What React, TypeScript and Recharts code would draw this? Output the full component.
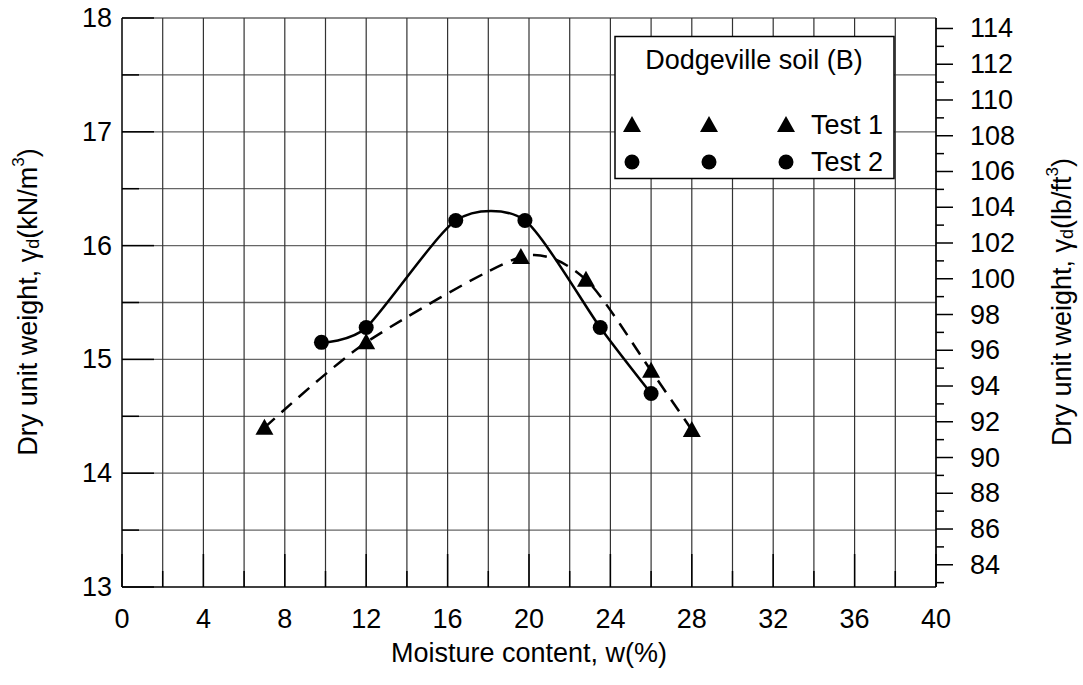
import React from 'react';
import { ComposedChart, Line, XAxis, YAxis, ReferenceLine, Label } from 'recharts';

// ---- data ----
const test1W = [7, 12, 19.6, 22.8, 26, 28];
const test1G = [14.4, 15.15, 15.9, 15.7, 14.9, 14.38];
const test2W = [9.8, 12, 16.4, 19.8, 23.5, 26];
const test2G = [15.15, 15.28, 16.22, 16.22, 15.28, 14.7];

const xTicks = [0, 2, 4, 6, 8, 10, 12, 14, 16, 18, 20, 22, 24, 26, 28, 30, 32, 34, 36, 38, 40];
const yTicks = [13, 13.5, 14, 14.5, 15, 15.5, 16, 16.5, 17, 17.5, 18];
const rightTicks = [83, 84, 85, 86, 87, 88, 89, 90, 91, 92, 93, 94, 95, 96, 97, 98, 99, 100, 101, 102, 103, 104, 105, 106, 107, 108, 109, 110, 111, 112, 113, 114];
const gridX = [2, 4, 6, 8, 10, 12, 14, 16, 18, 20, 22, 24, 26, 28, 30, 32, 34, 36, 38, 40];
const gridY = [13.5, 14, 14.5, 15, 15.5, 16, 16.5, 17, 17.5, 18];
const KN_TO_PCF = 6.3659;

const test1 = test1W.map((w, i) => ({ w, g: test1G[i] }));
const test2 = test2W.map((w, i) => ({ w, g: test2G[i] }));

const FONT = '"Liberation Sans", Arial, sans-serif';
const FS = 27;
const TM = 10;

// cardinal-spline curve factory (smooth curve through every point)
function cardinal(k: number) {
  return function (context: any) {
    let x0 = NaN, y0 = NaN, x1 = NaN, y1 = NaN, x2 = NaN, y2 = NaN;
    let pt = 0;
    let line: any = undefined;
    const seg = (x: number, y: number) => {
      context.bezierCurveTo(
        x1 + k * (x2 - x0),
        y1 + k * (y2 - y0),
        x2 + k * (x1 - x),
        y2 + k * (y1 - y),
        x2,
        y2
      );
    };
    return {
      areaStart() { line = 0; },
      areaEnd() { line = NaN; },
      lineStart() { x0 = x1 = x2 = y0 = y1 = y2 = NaN; pt = 0; },
      lineEnd() {
        if (pt === 2) context.lineTo(x2, y2);
        else if (pt === 3) seg(x1, y1);
        if (line || (line !== 0 && pt === 1)) context.closePath();
        line = 1 - line;
      },
      point(x: number, y: number) {
        x = +x; y = +y;
        if (pt === 0) {
          pt = 1;
          if (line) context.lineTo(x, y); else context.moveTo(x, y);
        } else if (pt === 1) {
          pt = 2;
          x1 = x; y1 = y;
        } else {
          if (pt === 2) pt = 3;
          seg(x, y);
        }
        x0 = x1; x1 = x2; x2 = x;
        y0 = y1; y1 = y2; y2 = y;
      },
    };
  };
}

const LeftTick = (props: any) => {
  const { x, y, payload } = props;
  const v = payload.value;
  const major = Number.isInteger(v);
  const x0 = x + TM;
  return (
    <g>
      <line x1={x0} x2={x0 + (major ? 32 : 17)} y1={y} y2={y} stroke="#000" strokeWidth={1.5} />
      {major && (
        <text x={x0 - 10} y={y} textAnchor="end" dominantBaseline="central" fontFamily={FONT} fontSize={FS} fill="#000">
          {v}
        </text>
      )}
    </g>
  );
};

const BottomTick = (props: any) => {
  const { x, y, payload } = props;
  const v = payload.value;
  const major = v % 4 === 0;
  const y0 = y - TM;
  return (
    <g>
      <line x1={x} x2={x} y1={y0} y2={y0 - (major ? 33 : 16)} stroke="#000" strokeWidth={1.5} />
      {major && (
        <text x={x} y={y0 + 32} textAnchor="middle" dominantBaseline="central" fontFamily={FONT} fontSize={FS} fill="#000">
          {v}
        </text>
      )}
    </g>
  );
};

const RightTick = (props: any) => {
  const { x, y, payload } = props;
  const v = payload.value;
  const major = v % 2 === 0;
  const x0 = x - TM;
  return (
    <g>
      <line x1={x0} x2={x0 + (major ? 17 : 8)} y1={y} y2={y} stroke="#000" strokeWidth={1.5} />
      {major && (
        <text x={x0 + 34} y={y} textAnchor="start" dominantBaseline="central" fontFamily={FONT} fontSize={FS} fill="#000">
          {v}
        </text>
      )}
    </g>
  );
};

const TriDot = (props: any) => {
  const { cx, cy } = props;
  if (cx == null || cy == null) return null;
  return <path d={`M${cx},${cy - 9} L${cx + 9},${cy + 7} L${cx - 9},${cy + 7} Z`} fill="#000" />;
};

const CircDot = (props: any) => {
  const { cx, cy } = props;
  if (cx == null || cy == null) return null;
  return <circle cx={cx} cy={cy} r={7.5} fill="#000" />;
};

const LeftTitle = () => (
  <text transform="translate(28,302) rotate(-90)" textAnchor="middle" dominantBaseline="central" fontFamily={FONT} fontSize={FS} fill="#000">
    Dry unit weight, γ<tspan dy={5} fontSize={18}>d</tspan>
    <tspan dy={-5}>(kN/m</tspan>
    <tspan dy={-10} fontSize={17}>3</tspan>
    <tspan dy={10}>)</tspan>
  </text>
);

const RightTitle = () => (
  <text transform="translate(1062,302) rotate(-90)" textAnchor="middle" dominantBaseline="central" fontFamily={FONT} fontSize={FS} fill="#000">
    Dry unit weight, γ<tspan dy={5} fontSize={18}>d</tspan>
    <tspan dy={-5}>(lb/ft</tspan>
    <tspan dy={-10} fontSize={17}>3</tspan>
    <tspan dy={10}>)</tspan>
  </text>
);

const BottomTitle = () => (
  <text x={529} y={653} textAnchor="middle" dominantBaseline="central" fontFamily={FONT} fontSize={FS} fill="#000">
    Moisture content, w(%)
  </text>
);

const LegendBox = () => (
  <svg width={282} height={146} style={{ position: 'absolute', left: 614, top: 35 }}>
    <rect x={1} y={1.5} width={279} height={142} fill="#fff" stroke="#000" strokeWidth={1.5} />
    <text x={140} y={25} textAnchor="middle" dominantBaseline="central" fontFamily={FONT} fontSize={FS} fill="#000">
      Dodgeville soil (B)
    </text>
    {[18, 95, 172].map((cx) => (
      <TriDot key={'t' + cx} cx={cx} cy={90} />
    ))}
    {[18, 95, 172].map((cx) => (
      <CircDot key={'c' + cx} cx={cx} cy={127} />
    ))}
    <text x={197} y={90} dominantBaseline="central" fontFamily={FONT} fontSize={FS} fill="#000">Test 1</text>
    <text x={197} y={127} dominantBaseline="central" fontFamily={FONT} fontSize={FS} fill="#000">Test 2</text>
  </svg>
);

const smoothCurve: any = cardinal(0.12);

export default function App() {
  return (
    <div style={{ position: 'absolute', left: 0, top: 0, width: 1083, height: 685, background: '#fff' }}>
      <ComposedChart width={1083} height={685} margin={{ top: 18, right: 0, bottom: 0, left: 0 }}>
        <XAxis
          xAxisId={0}
          type="number"
          dataKey="w"
          domain={[0, 40]}
          ticks={xTicks}
          interval={0}
          height={98}
          tickSize={0}
          tickMargin={TM}
          tick={<BottomTick />}
          axisLine={{ stroke: '#000', strokeWidth: 1.5 }}
          allowDataOverflow
        >
          <Label content={BottomTitle} />
        </XAxis>
        <YAxis
          yAxisId="kn"
          type="number"
          domain={[13, 18]}
          ticks={yTicks}
          interval={0}
          width={122}
          tickSize={0}
          tickMargin={TM}
          tick={<LeftTick />}
          axisLine={{ stroke: '#000', strokeWidth: 1.5 }}
          allowDataOverflow
        >
          <Label content={LeftTitle} />
        </YAxis>
        <YAxis
          yAxisId="lb"
          orientation="right"
          type="number"
          domain={[13 * KN_TO_PCF, 18 * KN_TO_PCF]}
          ticks={rightTicks}
          interval={0}
          width={147}
          tickSize={0}
          tickMargin={TM}
          tick={<RightTick />}
          axisLine={{ stroke: '#000', strokeWidth: 1.5 }}
          allowDataOverflow
        >
          <Label content={RightTitle} />
        </YAxis>
        {gridY.map((v) => (
          <ReferenceLine key={'gy' + v} yAxisId="kn" y={v} stroke="#666" strokeWidth={1.3} />
        ))}
        {gridX.map((v) => (
          <ReferenceLine key={'gx' + v} yAxisId="kn" x={v} stroke="#333" strokeWidth={1.2} />
        ))}
        <Line
          yAxisId="kn"
          data={test1}
          dataKey="g"
          type={smoothCurve}
          stroke="#000"
          strokeWidth={2.5}
          strokeDasharray="14 9"
          dot={<TriDot />}
          activeDot={false}
          isAnimationActive={false}
        />
        <Line
          yAxisId="kn"
          data={test2}
          dataKey="g"
          type={smoothCurve}
          stroke="#000"
          strokeWidth={2.5}
          dot={<CircDot />}
          activeDot={false}
          isAnimationActive={false}
        />
      </ComposedChart>
      <LegendBox />
    </div>
  );
}
